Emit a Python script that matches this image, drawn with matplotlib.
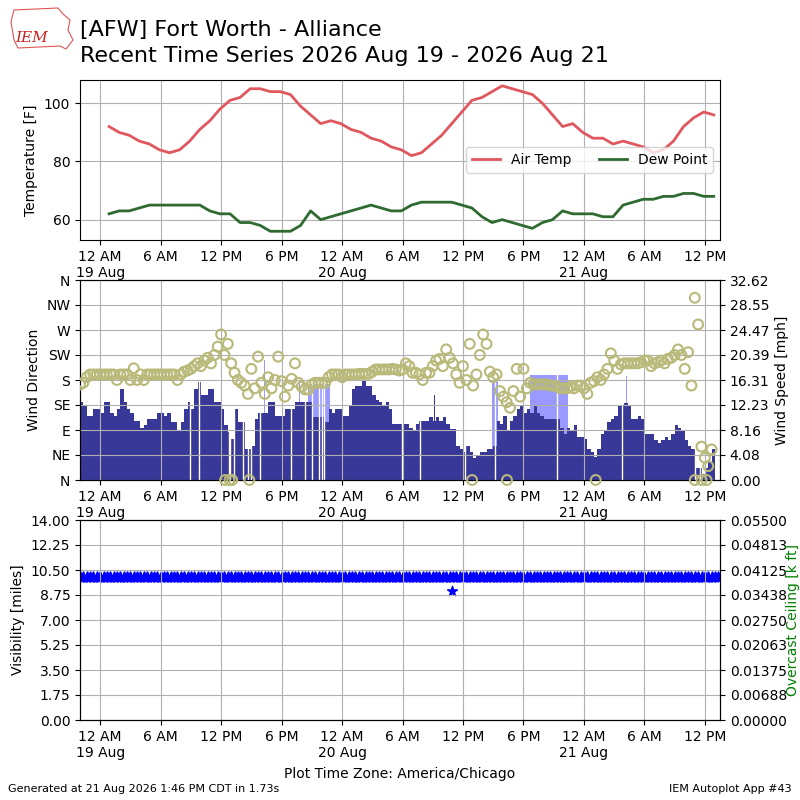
import numpy as np
import pandas as pd
import matplotlib
matplotlib.use("Agg")
import matplotlib.pyplot as plt
import matplotlib.dates as mdates
from matplotlib.patches import Polygon
from matplotlib.ticker import FuncFormatter

# hourly obs (temperature / dew point), starting 19 Aug 00:53
temp_start = "2026-08-19 00:53"
air_temp = [92, 90, 89, 87, 86, 84, 83, 84, 87, 91, 94, 98, 101, 102, 105, 105,
            104, 104, 103, 99, 96, 93, 94, 93, 91, 90, 88, 87, 85, 84, 82, 83,
            86, 89, 93, 97, 101, 102, 104, 106, 105, 104, 103, 100, 96, 92, 93,
            90, 88, 88, 86, 87, 86, 85, 83, 84, 87, 92, 95, 97, 96]
dew_point = [62, 63, 63, 64, 65, 65, 65, 65, 65, 65, 63, 62, 62, 59, 59, 58,
             56, 56, 56, 58, 63, 60, 61, 62, 63, 64, 65, 64, 63, 63, 65, 66,
             66, 66, 66, 65, 64, 61, 59, 60, 59, 58, 57, 59, 60, 63, 62, 62,
             62, 61, 61, 65, 66, 67, 67, 68, 68, 69, 69, 68, 68]

# 20 minute wind samples, starting 18 Aug 22:00
wind_start = "2026-08-18 22:00"
wind_speed = [
    12.7, 12.1, 10.5, 10.5, 11.6, 11.6, 11.0, 12.7, 12.7, 11.0, 10.5, 11.6,
    14.9, 12.7, 11.6, 11.0, 9.7, 9.7, 8.5, 8.9, 10.0, 10.0, 10.0, 11.0,
    11.0, 10.5, 11.0, 9.4, 9.4, 8.0, 9.4, 11.6, 12.7, 11.6, 14.9, 16.0,
    13.8, 13.8, 14.9, 14.9, 12.7, 12.7, 11.6, 8.9, 7.8, 6.7, 11.6, 9.4,
    9.4, 5.0, 5.0, 5.6, 10.0, 11.0, 11.0, 11.0, 12.7, 12.7, 10.5, 10.5,
    10.5, 11.6, 11.6, 11.6, 12.7, 12.7, 12.7, 12.7, 12.7,
    10.2, 10.2, 10.2, 10.2, 9.5, 11.6, 11.0, 11.6, 11.6, 10.5, 10.5, 12.0,
    14.9, 15.4, 15.4, 16.2, 15.4, 15.4, 13.8, 13.0, 12.7, 12.0, 12.7, 11.6,
    9.1, 9.1, 9.1, 9.1, 9.1, 8.5, 8.0, 9.1, 9.7, 9.7, 9.7, 10.2,
    9.7, 10.2, 9.7, 10.2, 9.1, 8.3, 8.3, 5.5, 5.0, 4.5, 5.5, 4.5,
    3.6, 4.0, 4.5, 4.5, 5.0, 5.0, 5.6, 9.7, 9.1, 10.5, 8.0, 9.7, 10.5,
    11.6, 12.0, 11.0, 11.5, 11.0, 12.0, 11.0, 10.5, 10.0, 10.0, 10.0, 10.0,
    10.0, 8.5, 7.5, 8.5, 8.0, 9.0, 7.0, 7.0, 6.7, 5.0, 4.5, 3.8,
    5.0, 7.5, 8.0, 9.5, 10.0, 10.5, 12.0, 12.0, 12.5, 12.0, 10.0, 10.0,
    10.5, 10.0, 7.5, 7.5, 7.5, 6.5, 6.0, 6.5, 7.0, 6.5, 7.5, 9.0,
    8.5, 8.0, 6.5, 5.5, 5.0, 2.0, 2.0, 1.0, 2.0, 3.0, 5.0, 0.0, 0.0]
wind_dir = [
    172, 175, 185, 190, 190, 190, 190, 190, 190, 190, 190, 180,
    190, 190, 190, 180, 201, 180, 190, 180, 190, 190, 190, 190,
    190, 190, 190, 190, 190, 180, 190, 195, 197, 200, 205, 210,
    205, 215, 220, 210, 225, 240, 262, 225, 245, 210, 193, 180,
    175, 170, 155, 200, 165, 222, 175, 155, 185, 165, 180, 222,
    178, 150, 170, 182, 210, 175, 168, 163, 163,
    172, 175, 175, 175, 175, 185, 190, 190, 190, 185, 190, 190,
    190, 190, 191, 191, 191, 191, 195, 199, 199, 199, 199, 199,
    200, 199, 197, 199, 210, 205, 193, 193, 190, 180, 193, 193,
    205, 215, 218, 205, 235, 220, 210, 190, 175, 205, 180, 245,
    170, 190, 225, 262, 245, 195, 185, 190, 160, 150, 140, 130, 160,
    200, 150, 200, 165, 175, 172, 172, 172, 172, 172, 170, 170,
    168, 165, 165, 165, 168, 165, 170, 170, 165, 155, 175, 178,
    185, 180, 190, 200, 228, 215, 200, 208, 210, 210, 210, 210,
    210, 212, 215, 215, 205, 210, 212, 215, 210, 218, 220, 225,
    235, 225, 200, 230, 170, 328, 280, 60, 40, 25, 55, np.nan, np.nan]
visibility = [
    10, 10, 10, 10, 10, 10, 10, 10, 10, 10, 10, 10, 10, 10, 10, 10, 10, 10, 10, 10,
    10, 10, 10, 10, 10, 10, 10, 10, 10, 10, 10, 10, 10, 10, 10, 10, 10, 10, 10, 10,
    10, 10, 10, 10, 10, 10, 10, 10, 10, 10, 10, 10, 10, 10, 10, 10, 10, 10, 10, 10,
    10, 10, 10, 10, 10, 10, 10, 10, 10, 10, 10, 10, 10, 10, 10, 10, 10, 10, 10, 10,
    10, 10, 10, 10, 10, 10, 10, 10, 10, 10, 10, 10, 10, 10, 10, 10, 10, 10, 10, 10,
    10, 10, 10, 10, 10, 10, 10, 10, 10, 10, 10, 10, 10, 10, 10, 10, 10, 10, 10, 10,
    10, 10, 10, 10, 10, 10, 10, 10, 10, 10, 10, 10, 10, 10, 10, 10, 10, 10, 10, 10,
    10, 10, 10, 10, 10, 10, 10, 10, 10, 10, 10, 10, 10, 10, 10, 10, 10, 10, 10, 10,
    10, 10, 10, 10, 10, 10, 10, 10, 10, 10, 10, 10, 10, 10, 10, 10, 10, 10, 10, 10,
    10, 10, 10, 10, 10, 10, 10, 10, 10, 10, 10]
low_vis_time = ["2026-08-20 10:57"]
low_vis = [9.0]

# single minute gusts and gust periods
gust_times = ["2026-08-19 05:34", "2026-08-19 08:48", "2026-08-19 13:10",
              "2026-08-19 13:59", "2026-08-19 16:18", "2026-08-19 19:47",
              "2026-08-20 01:23", "2026-08-20 02:33", "2026-08-20 03:44",
              "2026-08-20 16:52", "2026-08-20 17:29", "2026-08-21 04:14",
              "2026-08-21 12:18", "2026-08-21 12:26"]
gust_vals = [16.2, 16.2, 21.1, 17.0, 19.5, 16.2, 20.6, 20.6, 24.2, 17.3,
             19.5, 17.0, 31.0, 20.6]
gust_blk_start = ["2026-08-19 20:40", "2026-08-20 14:54", "2026-08-20 18:38"]
gust_blk_end = ["2026-08-19 22:48", "2026-08-20 15:30", "2026-08-20 22:24"]
gust_blk_vals = [15.7, 16.2, 17.2]
spike_times = ["2026-08-20 09:11", "2026-08-21 12:20"]
spike_vals = [13.8, 13.8]
# calm minutes
calm_times = ["2026-08-19 08:52", "2026-08-19 09:47", "2026-08-19 12:46",
              "2026-08-19 12:54", "2026-08-19 13:14", "2026-08-19 14:09",
              "2026-08-19 14:39", "2026-08-19 14:59", "2026-08-19 15:49",
              "2026-08-19 18:57", "2026-08-19 20:18", "2026-08-19 21:01",
              "2026-08-19 21:45", "2026-08-19 22:01", "2026-08-19 22:11",
              "2026-08-20 05:57", "2026-08-20 07:46", "2026-08-20 12:14",
              "2026-08-20 15:13", "2026-08-20 21:17", "2026-08-21 03:44",
              "2026-08-21 11:01", "2026-08-21 11:31", "2026-08-21 12:00"]
calm_dir_times = ["2026-08-19 12:24", "2026-08-19 12:50", "2026-08-19 13:06",
                  "2026-08-19 14:48", "2026-08-20 12:54", "2026-08-20 16:22",
                  "2026-08-21 01:10", "2026-08-21 11:00", "2026-08-21 11:40",
                  "2026-08-21 12:10"]
speed_max = 32.624

TEMPC = "#e0575e"
DEWC = "#2f6b30"
SPDC = "#383898"
GUSTC = "#9999ff"
DIRC = "#b9b97a"

t_temp = pd.date_range(temp_start, periods=len(air_temp), freq="60min")
t_wind = pd.date_range(wind_start, periods=len(wind_speed), freq="20min")
xmin = pd.Timestamp("2026-08-18 22:00")
xmax = pd.Timestamp("2026-08-21 13:30")


def tfmt(x, pos):
    d = mdates.num2date(x)
    lbl = {0: "12 AM", 6: "6 AM", 12: "12 PM", 18: "6 PM"}.get(d.hour, "")
    if d.hour == 0:
        lbl += "\n" + d.strftime("%d %b")
    return lbl


def setx(ax):
    ax.set_xlim(xmin, xmax)
    ax.xaxis.set_major_locator(mdates.HourLocator(byhour=[0, 6, 12, 18]))
    ax.xaxis.set_major_formatter(FuncFormatter(tfmt))
    ax.grid(True)


fig = plt.figure(figsize=(8, 8), dpi=100)

fig.text(0.1, 0.962, "[AFW] Fort Worth - Alliance", fontsize=16, va="center")
fig.text(0.1, 0.930, "Recent Time Series 2026 Aug 19 - 2026 Aug 21",
         fontsize=16, va="center")
# rough IEM logo
logo = [(14, 10), (58, 8), (63, 14), (70, 20), (68, 30), (73, 40), (66, 49),
        (60, 46), (18, 48), (14, 40), (11, 22)]
fig.patches.append(Polygon([(x / 800, 1 - y / 800) for x, y in logo],
                           closed=True, fill=False, edgecolor="#dd5555",
                           lw=0.8, transform=fig.transFigure))
fig.text(0.04, 0.952, "IEM", color="#cc2222", fontsize=11, style="italic",
         family="DejaVu Serif", ha="center", va="center")
fig.text(0.5, 0.032, "Plot Time Zone: America/Chicago", fontsize=10, ha="center",
         va="center")
fig.text(0.01, 0.014, "Generated at 21 Aug 2026 1:46 PM CDT in 1.73s", fontsize=8,
         va="center")
fig.text(0.99, 0.014, "IEM Autoplot App #43", fontsize=8, ha="right", va="center")

# temperature panel
ax1 = fig.add_axes([0.1, 0.70, 0.8, 0.20])
ax1.plot(t_temp, air_temp, color=TEMPC, lw=2, label="Air Temp")
ax1.plot(t_temp, dew_point, color=DEWC, lw=2, label="Dew Point")
ax1.set_ylim(53, 108)
ax1.set_yticks([60, 80, 100])
ax1.set_ylabel("Temperature [F]")
ax1.legend(loc="center right", ncol=2)
setx(ax1)

# wind panel
ax2 = fig.add_axes([0.1, 0.40, 0.8, 0.25])
ax2b = ax2.twinx()
blk_s = mdates.date2num(pd.to_datetime(gust_blk_start))
blk_e = mdates.date2num(pd.to_datetime(gust_blk_end))
ax2b.bar(blk_s, gust_blk_vals, width=blk_e - blk_s, align="edge", color=GUSTC,
         linewidth=0)
ax2b.bar(pd.to_datetime(gust_times), gust_vals, width=1.5 / 1440, color=GUSTC,
         linewidth=0)
ax2b.bar(t_wind, wind_speed, width=20 / 1440, align="edge", color=SPDC,
         linewidth=0)
ax2b.bar(pd.to_datetime(spike_times), spike_vals, width=1.5 / 1440, color=SPDC,
         linewidth=0)
ax2b.vlines(pd.to_datetime(calm_times), 0, speed_max, color="white", lw=1)
ax2b.set_ylim(0, speed_max)
ax2b.set_yticks(np.linspace(0, speed_max, 9))
ax2b.yaxis.set_major_formatter(FuncFormatter(lambda v, p: "%.2f" % v))
ax2b.set_ylabel("Wind Speed [mph]")

ax2.scatter(t_wind, wind_dir, s=50, facecolors="none", edgecolors=DIRC,
            linewidths=1.5, zorder=3)
ax2.scatter(pd.to_datetime(calm_dir_times), [0] * len(calm_dir_times), s=50,
            facecolors="none", edgecolors=DIRC, linewidths=1.5, zorder=3,
            clip_on=False)
ax2.set_ylim(0, 360)
ax2.set_yticks(range(0, 361, 45))
ax2.set_yticklabels(["N", "NE", "E", "SE", "S", "SW", "W", "NW", "N"])
ax2.set_ylabel("Wind Direction")
ax2.set_zorder(ax2b.get_zorder() + 1)
ax2.patch.set_visible(False)
setx(ax2)

# visibility panel
ax3 = fig.add_axes([0.1, 0.10, 0.8, 0.25])
ax3.scatter(t_wind, visibility, marker="*", s=55, color="b", edgecolors="b",
            linewidths=1.5)
ax3.scatter(pd.to_datetime(low_vis_time), low_vis, marker="*", s=55, color="b",
            edgecolors="b", linewidths=1)
ax3.set_ylim(0, 14)
ax3.set_yticks(np.linspace(0, 14, 9))
ax3.yaxis.set_major_formatter(FuncFormatter(lambda v, p: "%.2f" % v))
ax3.set_ylabel("Visibility [miles]")
setx(ax3)
ax3b = ax3.twinx()
ax3b.set_ylim(0, 0.055)
ax3b.set_yticks(np.linspace(0, 0.055, 9))
ax3b.yaxis.set_major_formatter(FuncFormatter(lambda v, p: "%.5f" % v))
ax3b.set_ylabel("Overcast Ceiling [k ft]", color="g")
ax3b.yaxis.set_label_coords(1.103, 0.5)

fig.savefig("out.png", dpi=100)
